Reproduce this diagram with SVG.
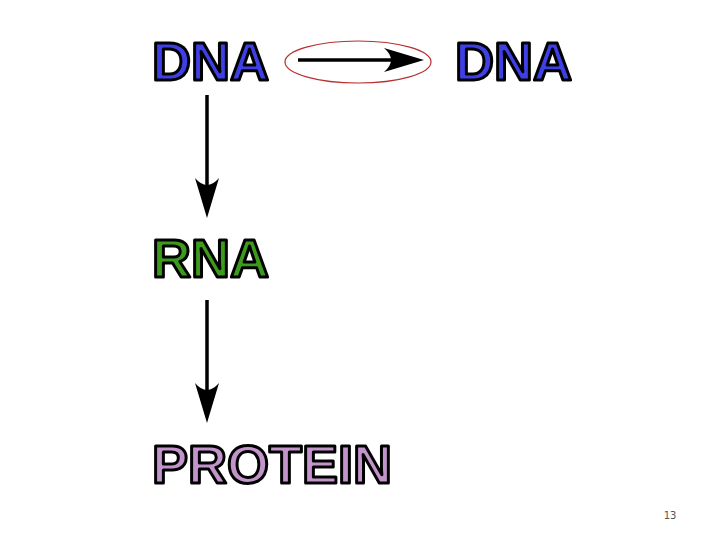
<svg xmlns="http://www.w3.org/2000/svg" width="720" height="540" viewBox="0 0 720 540">
<style>
.lbl{font-family:"Liberation Sans",Arial,sans-serif;font-weight:bold;font-size:54px;stroke:#000;stroke-width:3;stroke-linejoin:round}
.dna{fill:#3f3fe6}
.rna{fill:#3c9a1c}
.pro{fill:#c394cb}
.conn{stroke:#000;stroke-width:3.5;fill:none}
.head{fill:#000}
</style>
<rect width="720" height="540" fill="#fff"/>
<g id="dna1"><text class="lbl dna" x="152" y="80">DNA</text></g>
<g id="dna2"><text class="lbl dna" x="455" y="80">DNA</text></g>
<g id="rna"><text class="lbl rna" x="152" y="277">RNA</text></g>
<g id="protein"><text class="lbl pro" x="152" y="483">PROTEIN</text></g>
<g id="connectors">
<ellipse cx="358" cy="62" rx="73" ry="21" fill="none" stroke="#b8302f" stroke-width="1.2"/>
<line class="conn" x1="298" y1="60" x2="400" y2="60"/>
<path class="head" d="M424,60 L384,48 Q398,60 384,72 Z"/>
<line class="conn" x1="207" y1="95" x2="207" y2="200"/>
<path class="head" d="M207,218 L195,178 Q207,192 219,178 Z"/>
<line class="conn" x1="207" y1="300" x2="207" y2="405"/>
<path class="head" d="M207,423 L195,383 Q207,397 219,383 Z"/>
</g>
<text x="670" y="519" font-family="'DejaVu Sans',sans-serif" font-size="10" fill="#555" text-anchor="middle">13</text>
</svg>
